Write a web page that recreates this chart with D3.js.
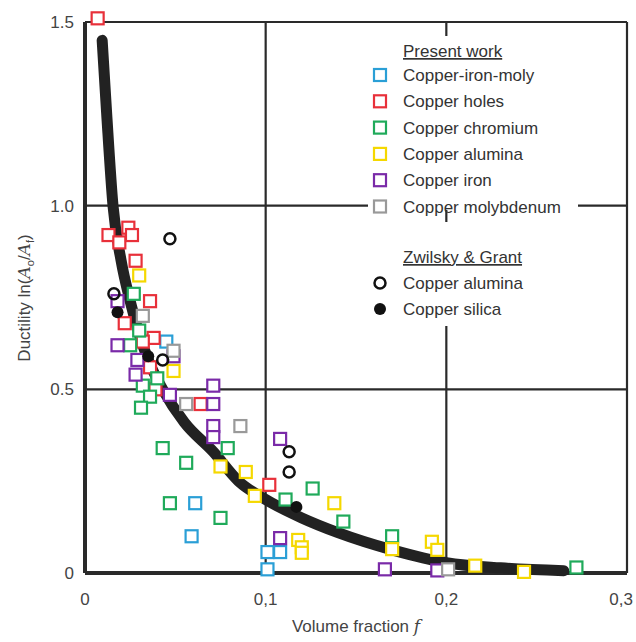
<!DOCTYPE html>
<html><head><meta charset="utf-8">
<script src="https://cdn.jsdelivr.net/npm/d3@7"></script>
<style>body{margin:0;background:#fff}text{font-family:"Liberation Sans",Arial,sans-serif}</style>
</head><body>
<svg id="c" width="636" height="642"></svg>
<script>
// curve
var curve = [[0.0095,1.45],[0.012,1.25],[0.0155,1.0],[0.02,0.85],[0.025,0.74],[0.03,0.65],[0.035,0.58],[0.043,0.5],[0.055,0.41],[0.071,0.33],[0.085,0.25],[0.1,0.2],[0.12,0.15],[0.14,0.11],[0.17,0.063],[0.2,0.028],[0.23,0.014],[0.265,0.006]];
var cuMoly = [[0.045,0.63],[0.061,0.19],[0.059,0.10],[0.101,0.057],[0.108,0.057],[0.101,0.01]];
var cuHoles = [[0.007,1.51],[0.013,0.92],[0.019,0.90],[0.024,0.94],[0.026,0.92],[0.028,0.85],[0.036,0.74],[0.022,0.68],[0.038,0.64],[0.032,0.63],[0.036,0.56],[0.039,0.50],[0.064,0.46],[0.102,0.24]];
var cuChromium = [[0.027,0.76],[0.030,0.66],[0.025,0.62],[0.040,0.53],[0.032,0.51],[0.036,0.48],[0.031,0.45],[0.043,0.34],[0.056,0.30],[0.079,0.34],[0.047,0.19],[0.075,0.15],[0.111,0.20],[0.126,0.23],[0.143,0.14],[0.17,0.10],[0.272,0.015]];
var cuAlumina = [[0.030,0.81],[0.049,0.55],[0.075,0.29],[0.089,0.275],[0.094,0.21],[0.118,0.09],[0.12,0.07],[0.12,0.055],[0.138,0.19],[0.17,0.065],[0.192,0.085],[0.195,0.063],[0.216,0.02],[0.243,0.003]];
var cuIron = [[0.018,0.74],[0.018,0.62],[0.029,0.58],[0.028,0.54],[0.049,0.59],[0.047,0.485],[0.071,0.51],[0.071,0.46],[0.071,0.40],[0.071,0.37],[0.108,0.365],[0.108,0.095],[0.166,0.01],[0.195,0.007]];
var cuMolybdenum = [[0.032,0.70],[0.049,0.605],[0.056,0.46],[0.086,0.40],[0.201,0.01]];
var zgAlumina = [[0.047,0.91],[0.016,0.76],[0.043,0.58],[0.113,0.33],[0.113,0.275]];
var zgSilica = [[0.018,0.71],[0.035,0.59],[0.117,0.18]];
var xTicks = [0,0.1,0.2,0.3], xLabels = ["0","0,1","0,2","0,3"];
var yTicks = [0,0.5,1.0,1.5], yLabels = ["0","0.5","1.0","1.5"];
var present = [["Copper-iron-moly","#2a9fd6",cuMoly],["Copper holes","#e8303a",cuHoles],["Copper chromium","#1faa5a",cuChromium],["Copper alumina","#f5d800",cuAlumina],["Copper iron","#7a2aa8",cuIron],["Copper molybdenum","#999999",cuMolybdenum]];

var svg = d3.select("#c");
var x = d3.scaleLinear().domain([0,0.3]).range([85,627]);
var y = d3.scaleLinear().domain([0,1.5]).range([573,22]);
var g = svg.append("g");
xTicks.forEach(function(t){ g.append("line").attr("x1",x(t)).attr("x2",x(t)).attr("y1",22).attr("y2",573).attr("stroke","#2a2a2a").attr("stroke-width",t===0?4:2.2); });
yTicks.forEach(function(t){ g.append("line").attr("y1",y(t)).attr("y2",y(t)).attr("x1",85).attr("x2",627).attr("stroke","#2a2a2a").attr("stroke-width",t===0?4:2.2); });
xTicks.forEach(function(t,i){
  var last = i===xTicks.length-1;
  svg.append("text").attr("x",last?633:x(t)).attr("y",605).attr("text-anchor",last?"end":"middle").attr("font-size",17).attr("fill","#444").text(xLabels[i]);
});
yTicks.forEach(function(t,i){ svg.append("text").attr("x",74).attr("y",y(t)+6).attr("text-anchor","end").attr("font-size",17).attr("fill","#444").text(yLabels[i]); });
var xl = svg.append("text").attr("x",356).attr("y",632).attr("text-anchor","middle").attr("font-size",17).attr("fill","#444");
xl.append("tspan").text("Volume fraction ");
xl.append("tspan").attr("font-style","italic").attr("font-family","DejaVu Serif").text("f");
var yl = svg.append("text").attr("transform","translate(30,298) rotate(-90)").attr("text-anchor","middle").attr("font-size",17).attr("fill","#444");
yl.append("tspan").text("Ductility ln(");
yl.append("tspan").attr("font-style","italic").attr("font-family","DejaVu Serif").text("A");
yl.append("tspan").attr("font-size",11).attr("dy",4).text("o");
yl.append("tspan").attr("dy",-4).text("/");
yl.append("tspan").attr("font-style","italic").attr("font-family","DejaVu Serif").text("A");
yl.append("tspan").attr("font-size",11).attr("dy",4).text("f");
yl.append("tspan").attr("dy",-4).text(")");

// legend background
svg.append("rect").attr("x",368).attr("y",36).attr("width",210).attr("height",290).attr("fill","#fff");
svg.append("line").attr("x1",x(0.2)).attr("x2",x(0.2)).attr("y1",210).attr("y2",222).attr("stroke","#2a2a2a").attr("stroke-width",2.2);

svg.append("path").datum(curve).attr("d",d3.line().x(function(d){return x(d[0]);}).y(function(d){return y(d[1]);}).curve(d3.curveMonotoneX))
  .attr("fill","none").attr("stroke","#222").attr("stroke-width",11).attr("stroke-linecap","round");

present.forEach(function(s){
  svg.append("g").selectAll("rect").data(s[2]).enter().append("rect")
    .attr("x",function(d){return x(d[0])-6;}).attr("y",function(d){return y(d[1])-6;})
    .attr("width",12).attr("height",12).attr("fill","#fff").attr("stroke",s[1]).attr("stroke-width",2.2);
});
svg.append("g").selectAll("circle").data(zgAlumina).enter().append("circle")
  .attr("cx",function(d){return x(d[0]);}).attr("cy",function(d){return y(d[1]);}).attr("r",5.5).attr("fill","none").attr("stroke","#111").attr("stroke-width",2.5);
svg.append("g").selectAll("circle").data(zgSilica).enter().append("circle")
  .attr("cx",function(d){return x(d[0]);}).attr("cy",function(d){return y(d[1]);}).attr("r",6).attr("fill","#111");

// legend
svg.append("text").attr("x",403).attr("y",57).attr("font-size",17).attr("fill","#333").attr("text-decoration","underline").text("Present work");
present.forEach(function(s,i){
  var yy = 75+i*26.3;
  svg.append("rect").attr("x",374).attr("y",yy-6).attr("width",12).attr("height",12).attr("fill","#fff").attr("stroke",s[1]).attr("stroke-width",2.2);
  svg.append("text").attr("x",403).attr("y",yy+6).attr("font-size",17).attr("fill","#333").text(s[0]);
});
svg.append("text").attr("x",403).attr("y",263).attr("font-size",17).attr("fill","#333").attr("text-decoration","underline").text("Zwilsky & Grant");
svg.append("circle").attr("cx",380).attr("cy",283).attr("r",5.5).attr("fill","none").attr("stroke","#111").attr("stroke-width",2.5);
svg.append("text").attr("x",403).attr("y",289).attr("font-size",17).attr("fill","#333").text("Copper alumina");
svg.append("circle").attr("cx",380).attr("cy",309).attr("r",6).attr("fill","#111");
svg.append("text").attr("x",403).attr("y",315).attr("font-size",17).attr("fill","#333").text("Copper silica");
</script>
</body></html>
